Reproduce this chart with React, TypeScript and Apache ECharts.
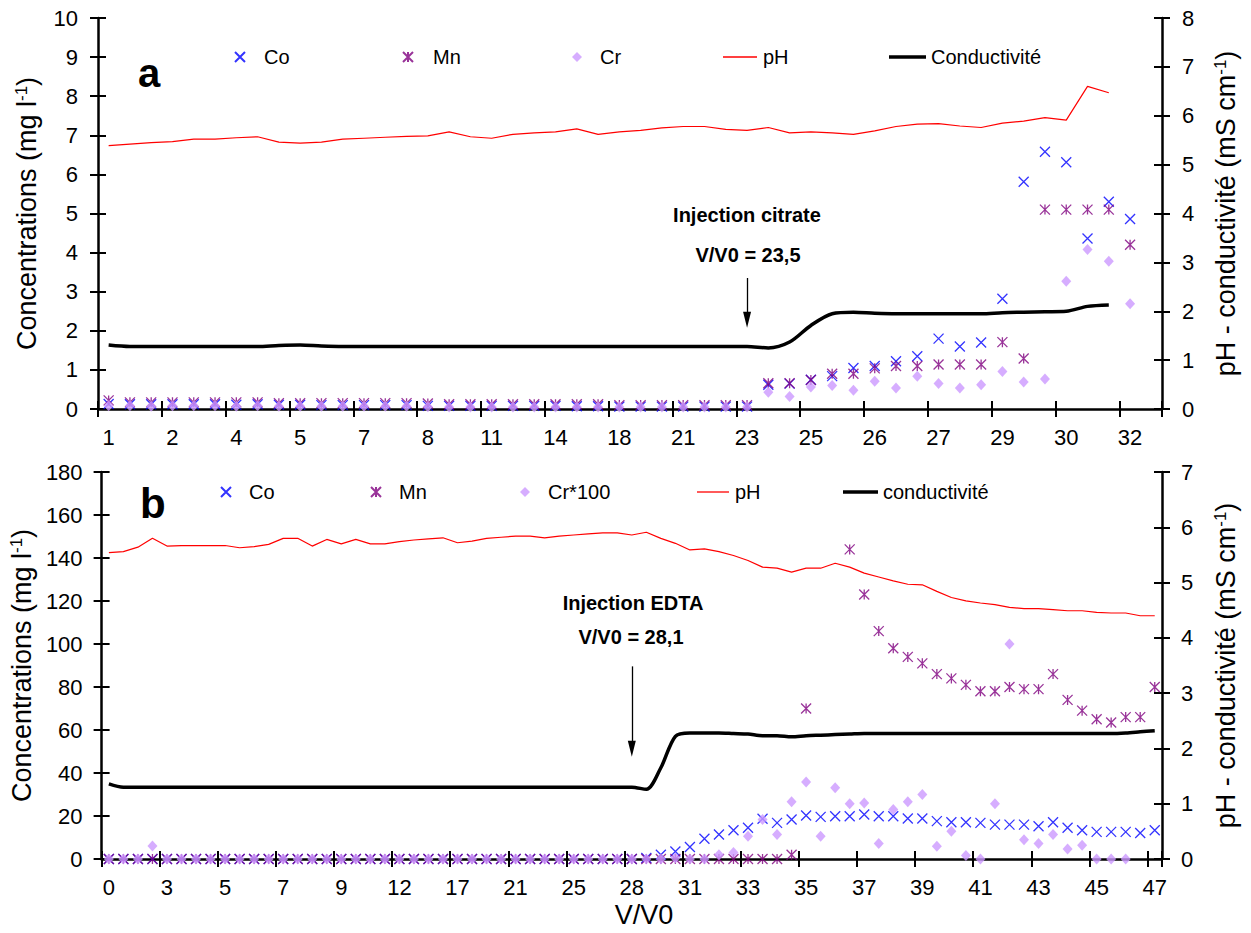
import React, { useEffect, useRef } from 'react';
import * as echarts from 'echarts';

const FONT = '"Liberation Sans", Arial, Helvetica, sans-serif';

// ---------- Panel a (citrate) ----------
const labelsA = ['1', '2', '4', '5', '7', '8', '11', '14', '18', '21', '23', '25', '26', '27', '29', '30', '32'];
const coA = [
  0.13, 0.12, 0.12, 0.12, 0.12, 0.12, 0.11, 0.12, 0.11, 0.11, 0.10, 0.10, 0.10, 0.10, 0.10,
  0.08, 0.08, 0.08, 0.08, 0.08, 0.08, 0.08, 0.07, 0.07, 0.06, 0.06, 0.06, 0.06, 0.06, 0.06, 0.06,
  0.62, 0.65, 0.75, 0.84, 1.05, 1.10, 1.22, 1.35, 1.80, 1.60, 1.70, 2.82, 5.81, 6.58, 6.31, 4.36, 5.30, 4.86,
  null,
];
const mnA = [
  0.22, 0.17, 0.17, 0.17, 0.17, 0.17, 0.17, 0.17, 0.15, 0.15, 0.15, 0.15, 0.15, 0.15, 0.15,
  0.14, 0.12, 0.12, 0.12, 0.12, 0.12, 0.12, 0.12, 0.12, 0.10, 0.10, 0.10, 0.10, 0.10, 0.10, 0.10,
  0.66, 0.66, 0.74, 0.90, 0.90, 1.04, 1.10, 1.10, 1.14, 1.14, 1.14, 1.71, 1.29, 5.10, 5.10, 5.10, 5.10, 4.20,
  null,
];
const crA = [
  0.08, 0.08, 0.07, 0.08, 0.08, 0.08, 0.07, 0.08, 0.07, 0.07, 0.07, 0.07, 0.07, 0.07, 0.07,
  0.06, 0.05, 0.05, 0.05, 0.05, 0.05, 0.05, 0.05, 0.05, 0.05, 0.05, 0.05, 0.05, 0.05, 0.05, 0.05,
  0.43, 0.32, 0.56, 0.60, 0.48, 0.71, 0.54, 0.84, 0.65, 0.54, 0.62, 0.96, 0.69, 0.77, 3.27, 4.08, 3.78, 2.69,
  null,
];
const phA = [
  5.39, 5.42, 5.45, 5.47, 5.52, 5.52, 5.55, 5.57, 5.46, 5.44,
  5.46, 5.52, 5.54, 5.56, 5.58, 5.59, 5.67, 5.57, 5.54, 5.62,
  5.65, 5.67, 5.73, 5.62, 5.67, 5.70, 5.75, 5.78, 5.78, 5.72,
  5.70, 5.76, 5.65, 5.67, 5.65, 5.62, 5.69, 5.78, 5.83, 5.84,
  5.79, 5.76, 5.85, 5.89, 5.96, 5.91, 6.60, 6.47, null, null,
];
const condA = [
  1.31, 1.28, 1.28, 1.28, 1.28, 1.28, 1.28, 1.28, 1.30, 1.31,
  1.29, 1.28, 1.28, 1.28, 1.28, 1.28, 1.28, 1.28, 1.28, 1.28,
  1.28, 1.28, 1.28, 1.28, 1.28, 1.28, 1.28, 1.28, 1.28, 1.28,
  1.28, 1.25, 1.37, 1.71, 1.95, 1.98, 1.96, 1.95, 1.95, 1.95,
  1.95, 1.95, 1.97, 1.98, 1.99, 2.00, 2.10, 2.13, null, null,
];

// ---------- Panel b (EDTA) ----------
const labelsB = ['0', '3', '5', '7', '9', '12', '17', '21', '25', '28', '31', '33', '35', '37', '39', '41', '43', '45', '47'];
const coB = [
  0, 0, 0, 0, 0, 0, 0, 0, 0, 0, 0, 0, 0, 0, 0, 0, 0, 0, 0, 0,
  0, 0, 0, 0, 0, 0, 0, 0, 0, 0, 0, 0, 0, 0, 0, 0, 0,
  0.5, 2.0, 3.5, 5.6, 9.4, 11.4, 13.4, 14.5, 18.7, 16.8, 18.4, 20.2, 19.6, 19.9, 19.9, 20.7, 19.9, 19.9,
  18.8, 18.8, 17.6, 17.1, 17.1, 16.8, 16.0, 16.0, 16.0, 15.2, 17.1, 14.5, 13.4, 12.6, 12.6, 12.6, 12.1, 13.4,
];
const mnB = [
  0, 0, 0, 0, 0, 0, 0, 0, 0, 0, 0, 0, 0, 0, 0, 0, 0, 0, 0, 0,
  0, 0, 0, 0, 0, 0, 0, 0, 0, 0, 0, 0, 0, 0, 0, 0, 0, 0, 0, 0,
  0, 0, 0, 0, 0, 0, 0,
  2.0, 70, null, null, 144, 123, 106, 98, 94, 91, 86, 84, 81, 78, 78, 80, 79, 79, 86, 74, 69, 65, 63.5, 66, 66, 80,
];
const crB = [
  0, 0, 0, 6, 0, 0, 0, 0, 0, 0, 0, 0, 0, 0, 0, 0, 0, 0, 0, 0,
  0, 0, 0, 0, 0, 0, 0, 0, 0, 0, 0, 0, 0, 0, 0, 0, 0, 0, 0,
  0.5, 0, 0, 2, 3, 10.6, 18.4, 11.4, 26.6, 35.8, 10.6, 33.1, 25.7, 26.1, 7.2, 23.0, 26.6, 30.0, 5.9, 12.9, 1.6, 0,
  25.7, 100, 9.0, 7.2, 11.4, 4.7, 6.4, 0, 0, 0, null, null,
];
const phB = [
  5.54, 5.56, 5.64, 5.80, 5.66, 5.67, 5.67, 5.67, 5.67, 5.63,
  5.65, 5.69, 5.80, 5.80, 5.66, 5.78, 5.70, 5.78, 5.70, 5.70,
  5.74, 5.77, 5.79, 5.81, 5.72, 5.75, 5.80, 5.82, 5.84, 5.84,
  5.81, 5.84, 5.86, 5.88, 5.90, 5.90, 5.86, 5.91, 5.80, 5.71,
  5.59, 5.61, 5.56, 5.49, 5.40, 5.28, 5.26, 5.19, 5.26, 5.26,
  5.35, 5.28, 5.17, 5.10, 5.03, 4.97, 4.96, 4.84, 4.73, 4.67,
  4.63, 4.60, 4.55, 4.53, 4.53, 4.51, 4.49, 4.49, 4.46, 4.45,
  4.45, 4.40, 4.40,
];
const condB = [
  1.36, 1.30, 1.30, 1.30, 1.30, 1.30, 1.30, 1.30, 1.30, 1.30,
  1.30, 1.30, 1.30, 1.30, 1.30, 1.30, 1.30, 1.30, 1.30, 1.30,
  1.30, 1.30, 1.30, 1.30, 1.30, 1.30, 1.30, 1.30, 1.30, 1.30,
  1.30, 1.30, 1.30, 1.30, 1.30, 1.30, 1.30, 1.26, 1.65, 2.22,
  2.28, 2.28, 2.28, 2.27, 2.26, 2.23, 2.23, 2.21, 2.23, 2.24,
  2.25, 2.26, 2.27, 2.27, 2.27, 2.27, 2.27, 2.27, 2.27, 2.27,
  2.27, 2.27, 2.27, 2.27, 2.27, 2.27, 2.27, 2.27, 2.27, 2.27,
  2.28, 2.30, 2.32,
];

const CO_COLOR = '#0000FF';
const MN_COLOR = '#800080';
const CR_COLOR = '#CC99FF';
const PH_COLOR = '#FF0000';
const X_SYMBOL = 'path://M0,0L10,10M10,0L0,10';
const STAR_SYMBOL = 'path://M0,0L10,10M10,0L0,10M5,0L5,10';

function buildOption() {
  const black = '#000';
  const axisLineStyle = { color: black, width: 2.5 };
  const tickStyle = { color: black, width: 2 };
  const labelStyle = { color: black, fontSize: 22, fontFamily: FONT };
  const catsA = coA.map((_, i) => String(i));
  const catsB = coB.map((_, i) => String(i));

  const xMain = (gridIndex: number, cats: string[], labels: string[], step: number) => ({
    type: 'category', gridIndex, data: cats, position: 'bottom', boundaryGap: true,
    axisLine: { show: true, onZero: false, lineStyle: axisLineStyle },
    axisTick: { show: false },
    axisLabel: {
      ...labelStyle, interval: step - 1, margin: 17,
      formatter: (_v: string, i: number) => (i % step === 0 ? labels[i / step] ?? '' : ''),
    },
    splitLine: { show: false },
  });
  // tick-only axis shifted into the plot so its ticks cross the axis line
  const xTicks = (gridIndex: number, cats: string[], step: number) => ({
    type: 'category', gridIndex, data: cats, position: 'bottom', boundaryGap: true, offset: -8,
    axisLine: { show: false, onZero: false },
    axisTick: { show: true, interval: step - 1, length: 16, lineStyle: tickStyle },
    axisLabel: { show: false },
    splitLine: { show: false },
  });
  const nameRich = {
    n: { fontSize: 27, fontFamily: FONT, color: black },
    s: { fontSize: 17, fontFamily: FONT, color: black, verticalAlign: 'top' },
  };
  const yMain = (gridIndex: number, position: string, max: number, interval: number, name: string, margin: number, nameGap: number) => ({
    type: 'value', gridIndex, position, min: 0, max, interval,
    axisLine: { show: true, onZero: false, lineStyle: axisLineStyle },
    axisTick: { show: false },
    axisLabel: { ...labelStyle, margin },
    splitLine: { show: false },
    name, nameLocation: 'middle', nameGap,
    nameTextStyle: { fontSize: 27, fontFamily: FONT, color: black, rich: nameRich },
  });
  const yTicks = (gridIndex: number, position: string, max: number, interval: number) => ({
    type: 'value', gridIndex, position, min: 0, max, interval, offset: -8,
    axisLine: { show: false, onZero: false },
    axisTick: { show: true, length: 16, lineStyle: tickStyle },
    axisLabel: { show: false },
    splitLine: { show: false },
  });

  const concName = '{n|Concentrations (mg l}{s|-1}{n|)}';
  const phName = '{n|pH - conductivité (mS cm}{s|-1}{n|)}';

  const coStyle = { color: 'rgba(0,0,0,0)', borderColor: CO_COLOR, borderWidth: 1.3 };
  const mnStyle = { color: 'rgba(0,0,0,0)', borderColor: MN_COLOR, borderWidth: 1.3 };
  const crStyle = { color: CR_COLOR };

  const arrowLine = (cat: number, y0: number, y1: number) => ({
    silent: true,
    symbol: ['none', 'none'],
    label: { show: false },
    lineStyle: { color: black, width: 1.3, type: 'solid' },
    emphasis: { disabled: true },
    data: [[
      { coord: [cat, y0], symbol: 'none' },
      { coord: [cat, y1], symbol: 'triangle', symbolSize: [8, 16] },
    ]],
  });

  const scatter = (name: string, x: number, y: number, data: any[], symbol: string, size: any, itemStyle: any, extra: any = {}) => ({
    name, type: 'scatter', xAxisIndex: x, yAxisIndex: y, data, symbol, symbolSize: size, itemStyle,
    emphasis: { disabled: true }, ...extra,
  });
  const line = (name: string, x: number, y: number, data: any[], color: string, width: number, smooth: number | boolean) => ({
    name, type: 'line', xAxisIndex: x, yAxisIndex: y, data, symbol: 'none', showSymbol: false,
    lineStyle: { color, width }, itemStyle: { color }, smooth, connectNulls: false,
    emphasis: { disabled: true },
  });

  const leg = (name: string, left: number, top: number, itemWidth: number, itemHeight: number, pad: number, icon?: string) => ({
    data: [name], left, top, itemWidth, itemHeight, padding: 0, selectedMode: false,
    ...(icon ? { icon } : {}),
    textStyle: { fontSize: 20, color: black, fontFamily: FONT, padding: [0, 0, 0, pad] },
  });

  const txt = (text: string, x: number, y: number, size: number, bold: boolean, align = 'center') => ({
    type: 'text', x, y, silent: true,
    style: {
      text, fill: black, fontSize: size, fontWeight: bold ? 'bold' : 'normal', fontFamily: FONT,
      align, verticalAlign: 'middle',
    },
  });

  return {
    animation: false,
    backgroundColor: '#fff',
    textStyle: { fontFamily: FONT },
    grid: [
      { left: 98, right: 89, top: 18, height: 391 },
      { left: 101, right: 89, top: 472, height: 387 },
    ],
    xAxis: [
      xMain(0, catsA, labelsA, 3),
      xTicks(0, catsA, 3),
      xMain(1, catsB, labelsB, 4),
      xTicks(1, catsB, 4),
    ],
    yAxis: [
      yMain(0, 'left', 10, 1, concName, 20, 58),
      yTicks(0, 'left', 10, 1),
      yMain(0, 'right', 8, 1, phName, 20, 50),
      yTicks(0, 'right', 8, 1),
      yMain(1, 'left', 180, 20, concName, 19, 58),
      yTicks(1, 'left', 180, 20),
      yMain(1, 'right', 7, 1, phName, 19, 50),
      yTicks(1, 'right', 7, 1),
    ],
    legend: [
      leg('Co', 234, 47, 10, 10, 14),
      leg('Mn', 402, 47, 10, 10, 15),
      leg('Cr', 572, 47, 10, 10, 13),
      leg('pH', 723, 47, 34, 1.3, 1, 'rect'),
      leg('Conductivité', 889, 47, 37, 3.5, 0, 'rect'),
      leg('Co', 220, 482, 10, 10, 13),
      leg('Mn', 370, 482, 10, 10, 13),
      leg('Cr*100', 520, 482, 10, 10, 13),
      leg('pH', 697, 482, 32, 1.3, 1, 'rect'),
      leg('conductivité', 843, 482, 35, 3.5, 0, 'rect'),
    ],
    series: [
      scatter('Co', 0, 0, coA, X_SYMBOL, 10, coStyle, { markLine: arrowLine(30, 3.35, 2.28) }),
      scatter('Mn', 0, 0, mnA, STAR_SYMBOL, 10, mnStyle),
      scatter('Cr', 0, 0, crA, 'diamond', [10, 11], crStyle),
      line('pH', 0, 2, phA, PH_COLOR, 1.2, false),
      line('Conductivité', 0, 2, condA, black, 3.5, 0.3),
      scatter('Co', 2, 4, coB, X_SYMBOL, 10, coStyle, { markLine: arrowLine(36, 89.6, 51.3) }),
      scatter('Mn', 2, 4, mnB, STAR_SYMBOL, 10, mnStyle),
      scatter('Cr*100', 2, 4, crB, 'diamond', [10, 11], crStyle),
      line('pH', 2, 6, phB, PH_COLOR, 1.2, false),
      line('conductivité', 2, 6, condB, black, 3.5, 0.3),
    ],
    graphic: [
      txt('a', 138, 73, 40, true, 'left'),
      txt('b', 140, 503, 42, true, 'left'),
      txt('Injection citrate', 747, 215, 20, true),
      txt('V/V0 = 23,5', 748, 255, 20, true),
      txt('Injection EDTA', 633, 603, 20, true),
      txt('V/V0 = 28,1', 631, 637, 20, true),
      txt('V/V0', 644, 915, 27, false),
    ],
  };
}

export default function App() {
  const ref = useRef<HTMLDivElement>(null);
  useEffect(() => {
    if (!ref.current) return;
    const chart = echarts.init(ref.current, null, { renderer: 'svg' });
    chart.setOption(buildOption() as any);
    return () => chart.dispose();
  }, []);
  return (
    <div
      ref={ref}
      style={{ position: 'fixed', left: 0, top: 0, width: 1251, height: 933, background: '#fff' }}
    />
  );
}
